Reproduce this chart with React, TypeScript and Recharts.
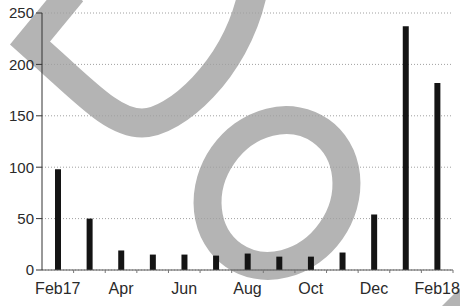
import React from 'react';
import { BarChart, Bar, XAxis, YAxis, CartesianGrid } from 'recharts';

const months = ['Feb17', 'Mar', 'Apr', 'May', 'Jun', 'Jul', 'Aug', 'Sep', 'Oct', 'Nov', 'Dec', 'Jan', 'Feb18'];
const counts = [98, 50, 19, 15, 15, 14, 16, 13, 13, 17, 54, 237, 182];
const yTicks = [0, 50, 100, 150, 200, 250];

const chartData = months.map((month, i) => ({ month, count: counts[i] }));

const W = 460;
const H = 306;
const MARGIN = { top: 13, right: 7, bottom: 6, left: 0 };
const Y_AXIS_W = 42;
const BAND = (W - MARGIN.left - MARGIN.right - Y_AXIS_W) / months.length;
const FONT = 'Arial, "Liberation Sans", sans-serif';

// month ticks sit on band edges, labels only every second month
function MonthTick(props: any) {
  const { x, y, payload } = props;
  const idx = props.index ?? payload?.index ?? 0;
  const edge = x + BAND / 2;
  return (
    <g>
      <line x1={edge} y1={y} x2={edge} y2={y + 3} stroke="#777" strokeWidth={1} />
      {idx % 2 === 0 && (
        <text x={x} y={y + 24} textAnchor="middle" fontSize={16} fill="#2a2a2a" fontFamily={FONT}>
          {payload.value}
        </text>
      )}
    </g>
  );
}

// the big grey letters printed behind the chart
function Backdrop() {
  return (
    <svg width={W} height={H} style={{ position: 'absolute', left: 0, top: 0 }}>
      <path
        d="M 72 -8 L 30 43 L 50 61 C 90 97 115 123 142 123 C 175 123 235 70 252 -5"
        fill="none"
        stroke="#b4b4b4"
        strokeWidth={29}
        strokeLinejoin="miter"
      />
      <ellipse
        cx={277}
        cy={193}
        rx={76}
        ry={66}
        transform="rotate(-55 277 193)"
        fill="none"
        stroke="#b4b4b4"
        strokeWidth={28}
      />
      <polygon points="442,306 460,288 460,306" fill="#b4b4b4" />
    </svg>
  );
}

export default function App() {
  return (
    <div style={{ position: 'absolute', left: 0, top: 0, width: W, height: H, background: '#fff' }}>
      <Backdrop />
      <div style={{ position: 'absolute', left: 0, top: 0 }}>
        <BarChart width={W} height={H} data={chartData} margin={MARGIN} barSize={6}>
          <CartesianGrid vertical={false} stroke="#a0a0a0" strokeDasharray="1 2" />
          <XAxis
            dataKey="month"
            interval={0}
            height={30}
            tickSize={0}
            tickMargin={0}
            tick={<MonthTick />}
            axisLine={{ stroke: '#555' }}
          />
          <YAxis
            width={Y_AXIS_W}
            domain={[0, 250]}
            ticks={yTicks}
            tickSize={6}
            tickMargin={2}
            axisLine={{ stroke: '#333' }}
            tickLine={{ stroke: '#333' }}
            tick={{ fontSize: 15, fill: '#2a2a2a', fontFamily: FONT }}
          />
          <Bar dataKey="count" fill="#141414" isAnimationActive={false} />
        </BarChart>
      </div>
    </div>
  );
}
